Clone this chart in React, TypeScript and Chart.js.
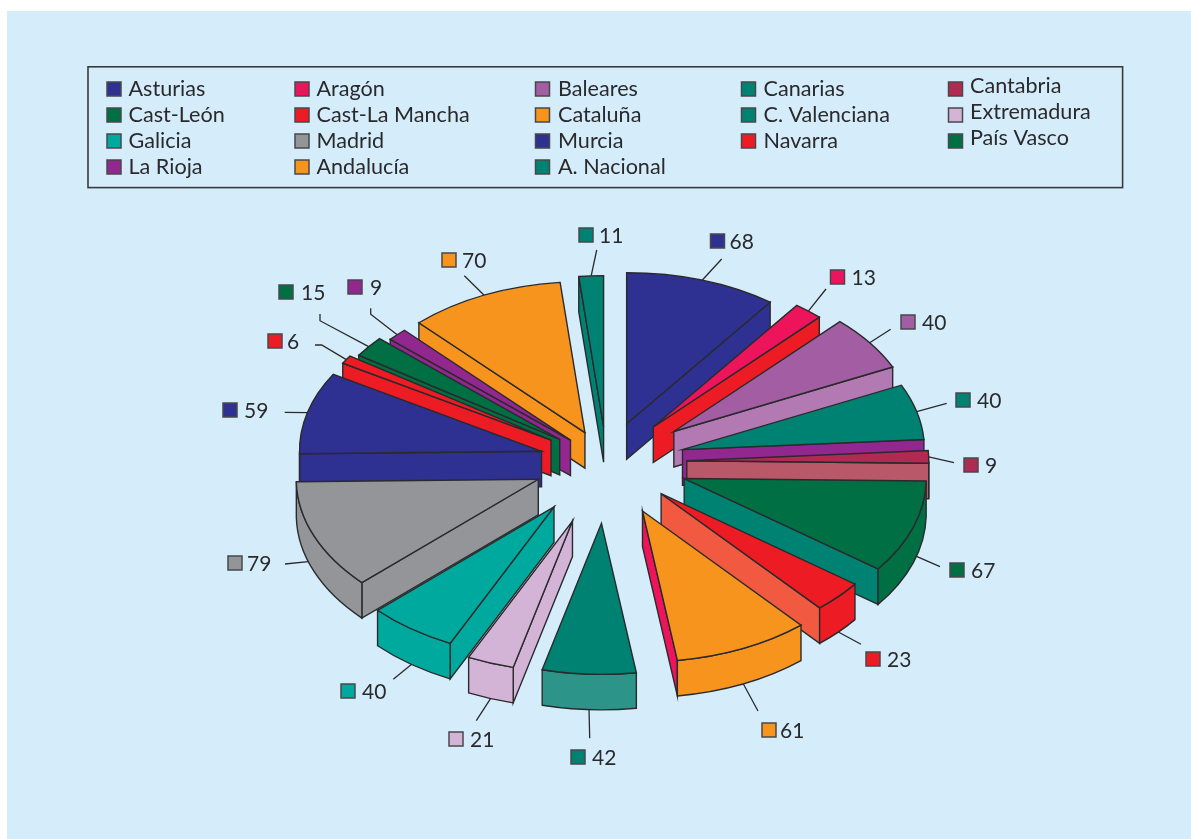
import React, { useEffect, useRef } from "react";
import { Chart, registerables } from "chart.js";

Chart.register(...registerables);

// ---- data ----
const regions = [
  "Asturias", "Aragón", "Baleares", "Canarias", "Cantabria",
  "Cast-León", "Cast-La Mancha", "Cataluña", "C. Valenciana", "Extremadura",
  "Galicia", "Madrid", "Murcia", "Navarra", "País Vasco",
  "La Rioja", "Andalucía", "A. Nacional",
];
const counts = [68, 13, 40, 40, 9, 67, 23, 61, 42, 21, 40, 79, 59, 6, 15, 9, 70, 11];

// ---- slice styling ----
const topColors = [
  "#2E3192", "#ED145B", "#A25DA3", "#008272", "#B02A51", "#006F44",
  "#ED1C24", "#F7941D", "#008272", "#D3B4D6", "#00A99D", "#939598",
  "#2E3192", "#ED1C24", "#006F44", "#92278F", "#F7941D", "#008272",
];
const radialWallColors = [
  "#2E3192", "#ED1C24", "#B279B3", "#92278F", "#B95868", "#008272",
  "#F15A40", "#ED145B", "#2C9488", "#D3B4D6", "#00A99D", "#939598",
  "#2E3192", "#ED1C24", "#006F44", "#92278F", "#F7941D", "#008272",
];
const rimWallColors = [
  "#2E3192", "#ED1C24", "#B279B3", "#008272", "#B02A51", "#006F44",
  "#ED1C24", "#F7941D", "#2C9488", "#D3B4D6", "#00A99D", "#939598",
  "#2E3192", "#ED1C24", "#006F44", "#92278F", "#F7941D", "#008272",
];
const explodeBy = [64.5, 73, 83.2, 78.5, 80.3, 82.1, 74.6, 86.4, 98.4, 100.5, 89.1, 73.6, 67.2, 65.6, 59.2, 50.3, 51.8, 56.7];

// ---- layout ----
const CX = 606.5;
const CY = 462;
const RADIUS = 242;
const TILT = 0.624;
const DEPTH = 35.5;
const INK = "#2A2A2D";
const LEGEND_FONT = '21.6px Lato, "Noto Sans", sans-serif';
const VALUE_FONT = '21px Lato, "Noto Sans", sans-serif';
const MARK = 14;

// callout marker top-left corner and the leader's free points, per slice
const calloutMarks: [number, number][] = [
  [710.5, 234], [830.5, 270], [901, 315], [956, 393], [964, 458], [950, 563],
  [866, 652], [762, 723], [571, 750], [449, 732], [341, 684], [228, 556],
  [223, 403], [268, 334], [279, 285], [348, 280], [442, 253], [579, 228],
];
const calloutTextGap = [5, 7, 7, 7, 7, 7, 7, 4, 7, 7, 7, 5, 7, 5, 8, 8, 6, 6];
// leader start, in degrees away from the slice's middle
const leaderTurn = [0, 0, 0, 0, 0, -2.6, 0, 0, 0, 0, 0, 4, 0, 0, 0, 0, 0, 0];
const calloutLeaders: [number, number][][] = [
  [[721.7, 259]], [[826, 289]], [[890.7, 329.3]], [[946.7, 403.3]], [[954, 462.7]], [[940, 566.7]],
  [[861, 644.3]], [[758, 711]], [[589.7, 738.3]], [[476.3, 720.7]], [[393.3, 679.3]], [[285, 564]],
  [[284.7, 412.3]], [[321.7, 345], [315, 345]], [[320, 320.7], [320, 314]], [[370.7, 314.3], [370.7, 308.3]],
  [[464.3, 275.7]], [[596.7, 250]],
];

const legendColumns = [
  { mark: 107, text: 128.5 },
  { mark: 295, text: 316.5 },
  { mark: 535.5, text: 558 },
  { mark: 741.5, text: 763.5 },
  { mark: 948.5, text: 970 },
];
const legendMarkTop = 82;
const legendBaseline = 96;
const legendRowStep = 26;
const legendLastColumnRaise = 2.6;

function drawMark(ctx: CanvasRenderingContext2D, x: number, y: number, color: string) {
  ctx.fillStyle = color;
  ctx.strokeStyle = "#48484B";
  ctx.lineWidth = 1.5;
  ctx.fillRect(x, y, MARK, MARK);
  ctx.strokeRect(x, y, MARK, MARK);
}

const pie3d = {
  id: "pie3d",
  afterDatasetsUpdate(chart: any) {
    chart.getDatasetMeta(0).data.forEach((arc: any, i: number) => {
      const mid = (arc.startAngle + arc.endAngle) / 2;
      arc.x = CX + Math.cos(mid) * explodeBy[i];
      arc.y = CY + Math.sin(mid) * explodeBy[i];
    });
  },
  beforeDraw(chart: any) {
    const { ctx, width, height } = chart;
    ctx.save();
    ctx.fillStyle = "#D5EDFA";
    ctx.fillRect(7, 11, width - 7, height - 11);
    ctx.restore();
  },
  beforeDatasetsDraw(chart: any) {
    const ctx: CanvasRenderingContext2D = chart.ctx;
    const arcs: any[] = chart.getDatasetMeta(0).data;
    const screenY = (y: number) => CY + (y - CY) * TILT;
    const rim = (arc: any, a: number, drop = 0): [number, number] => [
      arc.x + RADIUS * Math.cos(a),
      screenY(arc.y) + TILT * RADIUS * Math.sin(a) + drop,
    ];

    ctx.save();
    ctx.lineJoin = "miter";
    ctx.lineCap = "butt";

    // legend
    ctx.strokeStyle = "#3A3A3D";
    ctx.lineWidth = 1.6;
    ctx.strokeRect(88, 66.8, 1034.6, 120.8);
    ctx.font = LEGEND_FONT;
    ctx.textBaseline = "alphabetic";
    ctx.textAlign = "left";
    chart.data.labels.forEach((label: string, i: number) => {
      const col = i % 5;
      const row = Math.floor(i / 5);
      const c = legendColumns[col];
      drawMark(ctx, c.mark, legendMarkTop + row * legendRowStep, topColors[i]);
      ctx.fillStyle = INK;
      const raise = col === 4 ? legendLastColumnRaise : 0;
      ctx.fillText(label, c.text, legendBaseline + row * legendRowStep - raise);
    });

    // callouts
    arcs.forEach((arc, i) => {
      const mid = (arc.startAngle + arc.endAngle) / 2 + (leaderTurn[i] * Math.PI) / 180;
      const start = rim(arc, mid, Math.sin(mid) > 0 ? DEPTH : 0);
      ctx.beginPath();
      ctx.moveTo(start[0], start[1]);
      calloutLeaders[i].forEach((p) => ctx.lineTo(p[0], p[1]));
      ctx.strokeStyle = INK;
      ctx.lineWidth = 1.3;
      ctx.stroke();
      const [mx, my] = calloutMarks[i];
      drawMark(ctx, mx, my, topColors[i]);
      ctx.fillStyle = INK;
      ctx.font = VALUE_FONT;
      ctx.textBaseline = "alphabetic";
      ctx.fillText(String(counts[i]), mx + MARK + calloutTextGap[i], my + MARK + 1);
    });

    // slices, back to front
    const order = arcs
      .map((arc, i) => ({ i, key: Math.sin((arc.startAngle + arc.endAngle) / 2) }))
      .sort((a, b) => a.key - b.key);

    ctx.strokeStyle = INK;
    ctx.lineWidth = 1.4;
    for (const { i } of order) {
      const arc = arcs[i];
      const { startAngle: s, endAngle: e } = arc;
      const ax = arc.x;
      const ay = screenY(arc.y);

      const wall = (a: number) => {
        const p = rim(arc, a);
        ctx.beginPath();
        ctx.moveTo(ax, ay);
        ctx.lineTo(p[0], p[1]);
        ctx.lineTo(p[0], p[1] + DEPTH);
        ctx.lineTo(ax, ay + DEPTH);
        ctx.closePath();
        ctx.fillStyle = radialWallColors[i];
        ctx.fill();
        ctx.stroke();
      };
      if (Math.cos(s) < 0) wall(s);
      if (Math.cos(e) > 0) wall(e);

      const lo = Math.max(s, 0);
      const hi = Math.min(e, Math.PI);
      if (hi > lo) {
        ctx.beginPath();
        ctx.ellipse(ax, ay, RADIUS, RADIUS * TILT, 0, lo, hi);
        ctx.ellipse(ax, ay + DEPTH, RADIUS, RADIUS * TILT, 0, hi, lo, true);
        ctx.closePath();
        ctx.fillStyle = rimWallColors[i];
        ctx.fill();
        ctx.stroke();
      }

      // the slice's top face is the library's own arc, tilted
      ctx.save();
      ctx.translate(CX, CY);
      ctx.scale(1, TILT);
      ctx.translate(-CX, -CY);
      arc.draw(ctx);
      ctx.restore();

      ctx.beginPath();
      ctx.moveTo(ax, ay);
      ctx.ellipse(ax, ay, RADIUS, RADIUS * TILT, 0, s, e);
      ctx.closePath();
      ctx.stroke();
    }
    ctx.restore();
    return false;
  },
};

export default function App() {
  const ref = useRef<HTMLCanvasElement | null>(null);
  useEffect(() => {
    const chart = new Chart(ref.current!, {
      type: "pie",
      data: {
        labels: regions,
        datasets: [
          {
            data: counts,
            backgroundColor: topColors,
            borderWidth: 0,
            radius: RADIUS,
          } as any,
        ],
      },
      options: {
        responsive: false,
        animation: false,
        events: [],
        plugins: { legend: { display: false }, tooltip: { enabled: false } },
      },
      plugins: [pie3d as any],
    });
    return () => chart.destroy();
  }, []);
  return (
    <div style={{ position: "fixed", left: 0, top: 0, width: 1191, height: 839, background: "#fff", overflow: "hidden" }}>
      <canvas ref={ref} width={1191} height={839} style={{ display: "block" }} />
    </div>
  );
}
